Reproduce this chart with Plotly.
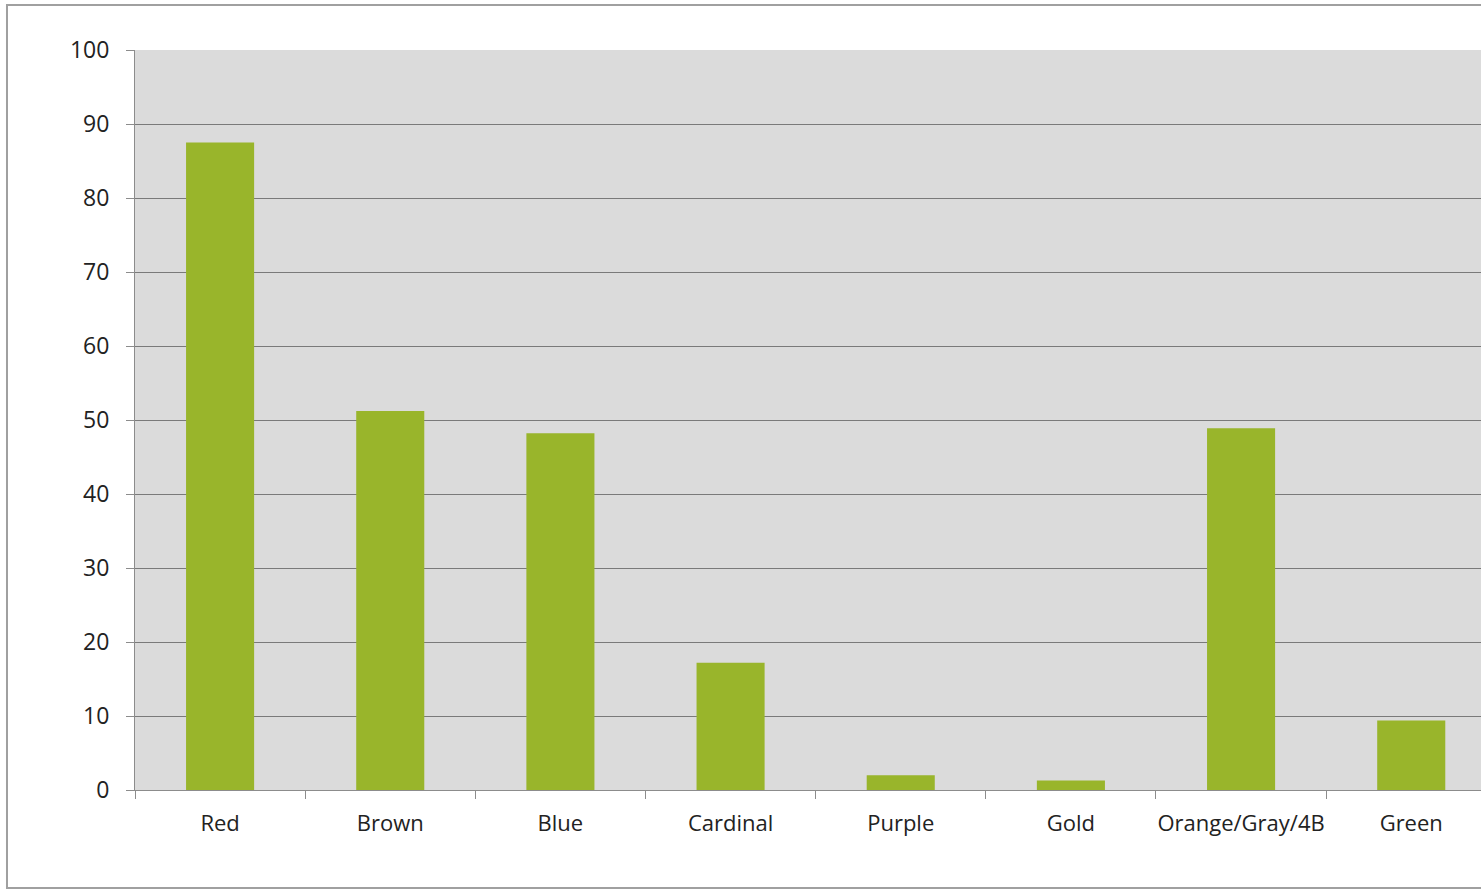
import plotly.graph_objects as go

categories = ["Red", "Brown", "Blue", "Cardinal", "Purple", "Gold", "Orange/Gray/4B", "Green"]
values = [87.5, 51.2, 48.2, 17.2, 2.0, 1.3, 48.9, 9.4]
y_ticks = [0, 10, 20, 30, 40, 50, 60, 70, 80, 90, 100]

fig = go.Figure(go.Bar(
    x=categories, y=values,
    marker=dict(color="#99b52b", line=dict(width=0)),
))

fig.update_layout(
    width=1481, height=892,
    margin=dict(l=135, r=0, t=50, b=102, autoexpand=False),
    paper_bgcolor="white",
    plot_bgcolor="#dbdbdb",
    bargap=0.6,
    showlegend=False,
    font=dict(family="Open Sans, Liberation Sans, sans-serif", size=20, color="#222"),
)
fig.update_xaxes(
    range=[-0.5, 7.41],
    showline=True, linecolor="#8c8c8c", linewidth=1,
    ticks="outside", tickson="boundaries", ticklen=8, tickcolor="#8c8c8c",
    ticklabelstandoff=14, tickangle=0, automargin=False,
    showgrid=False,
    tickfont=dict(size=22, color="#222"),
)
fig.update_yaxes(
    range=[0, 100], tickvals=y_ticks,
    showline=True, linecolor="#8c8c8c", linewidth=1,
    ticks="outside", ticklen=8, tickcolor="#8c8c8c",
    ticklabelstandoff=12, automargin=False,
    showgrid=True, gridcolor="#7a7a7a", gridwidth=1,
    zeroline=False,
    tickfont=dict(size=23, color="#222"),
)

# outer chart border (Excel chart frame)
fig.add_shape(type="rect", xref="paper", yref="paper",
              x0=-0.0951, x1=1.02, y0=-0.1324, y1=1.0608,
              line=dict(color="#a0a0a0", width=2), fillcolor="rgba(0,0,0,0)", layer="below")

fig.write_html("out.html", config={"displayModeBar": False},
               post_script="document.body.style.margin='0';document.body.style.overflow='hidden';")
